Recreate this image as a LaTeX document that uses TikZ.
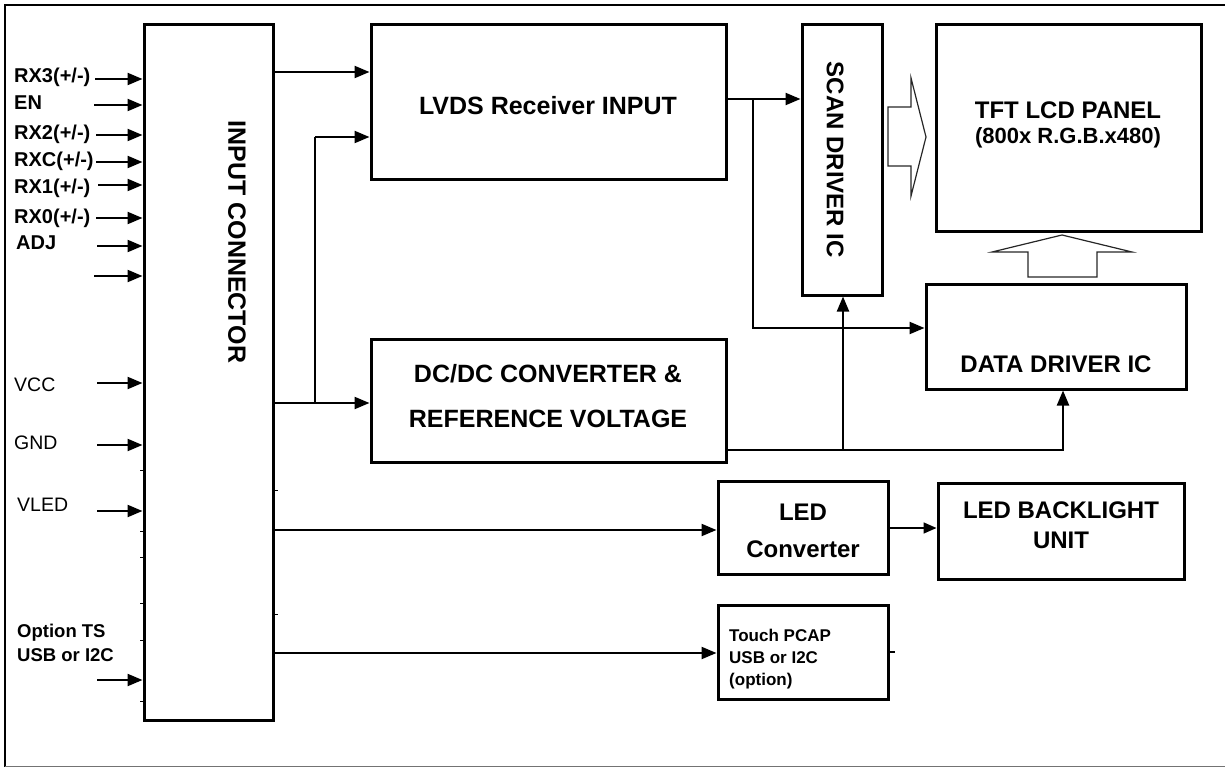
\documentclass[tikz,border=0pt]{standalone}
\usepackage{fontspec}
\setmainfont{Liberation Sans}
\usetikzlibrary{arrows.meta}
\begin{document}
\begin{tikzpicture}[x=1pt,y=-1pt,
  box/.style={draw,line width=3pt,minimum width=#1,inner sep=0pt},
  lbl/.style={font=\fontsize{25}{30}\selectfont\bfseries,inner sep=0pt},
  mid/.style={font=\fontsize{24}{28}\selectfont\bfseries,inner sep=0pt},
  pin/.style={font=\fontsize{20}{22}\selectfont\bfseries,inner sep=0pt,anchor=west},
  pinr/.style={font=\fontsize{19.5}{22}\selectfont,inner sep=0pt,anchor=west},
  small/.style={font=\fontsize{17}{20}\selectfont\bfseries,inner sep=0pt,anchor=west},
  arr/.style={line width=2.2pt,-{Triangle[length=15pt,width=12pt]}},
  arrthin/.style={line width=1.6pt,-{Triangle[length=13pt,width=11pt]}},
  hollow/.style={draw=black!85,line width=1.2pt,line join=miter},
  tick/.style={line width=1pt}]
\useasboundingbox (0,0) rectangle (1225,767);
% outer frame
\draw[line width=2pt] (1225,5) -- (5,5) -- (5,767);
\draw[line width=1pt,black!55] (5,766) -- (1225,766);

% boxes
\node[box=129pt,minimum height=695pt] (conn) at (208.5,372.5) {};
\node[box=355pt,minimum height=155pt] (lvds) at (548.5,102.5) {};
\node[box=355pt,minimum height=123pt] (dcdc) at (548.5,400.5) {};
\node[box=80pt,minimum height=270pt] (scan) at (842,160) {};
\node[box=265pt,minimum height=207pt] (tft) at (1068.5,128.5) {};
\node[box=260pt,minimum height=105pt] (data) at (1056,336.5) {};
\node[box=170pt,minimum height=93pt] (ledc) at (803,527.5) {};
\node[box=246pt,minimum height=96pt] (bl) at (1061,531) {};
\node[box=170pt,minimum height=94pt] (touch) at (803,652) {};

% box texts
\node[lbl,rotate=-90] (tconn) at (237,242) {INPUT CONNECTOR};
\node[lbl] (tlvds) at (548,106) {LVDS Receiver INPUT};
\node[lbl] (tdc1) at (548,374) {DC/DC CONVERTER \&};
\node[lbl] (tdc2) at (548,419) {REFERENCE VOLTAGE};
\node[font=\fontsize{24}{26}\selectfont\bfseries,inner sep=0pt,rotate=-90] (tscan) at (835,160) {SCAN DRIVER IC};
\node[mid] (ttft1) at (1068,110) {TFT LCD PANEL};
\node[font=\fontsize{22}{26}\selectfont\bfseries,inner sep=0pt] (ttft2) at (1068,138) {(800x R.G.B.x480)};
\node[mid] (tdata) at (1056,364) {DATA DRIVER IC};
\node[mid] (tled1) at (803,512) {LED};
\node[mid] (tled2) at (803,549) {Converter};
\node[mid] (tbl1) at (1061,510) {LED BACKLIGHT};
\node[mid] (tbl2) at (1061,540) {UNIT};
\node[small] (tt1) at (729,635) {Touch PCAP};
\node[small] (tt2) at (729,658) {USB or I2C};
\node[small] (tt3) at (729,681) {(option)};

% pin labels
\node[pin] (lrx3) at (14,77) {RX3(+/-)};
\node[pin] (len) at (14,103) {EN};
\node[pin] (lrx2) at (14,134) {RX2(+/-)};
\node[pin] (lrxc) at (14,161) {RXC(+/-)};
\node[pin] (lrx1) at (14,188) {RX1(+/-)};
\node[pin] (lrx0) at (14,218) {RX0(+/-)};
\node[pin] (ladj) at (16,243) {ADJ};
\node[pinr] (lvcc) at (14,385) {VCC};
\node[pinr] (lgnd) at (14,443) {GND};
\node[pinr] (lvled) at (17,505) {VLED};
\node[font=\fontsize{18.5}{22}\selectfont\bfseries,inner sep=0pt,anchor=west] (lopt1) at (17,633) {Option TS};
\node[font=\fontsize{18.5}{22}\selectfont\bfseries,inner sep=0pt,anchor=west] (lopt2) at (17,655) {USB or I2C};

% input arrows
\foreach \yy/\xx in {79/95,105/94,135/96,162/96,185/98,218/96,246/97,276/94,383/97,445/97,511/97,680/97}{
  \draw[arr] (\xx,\yy) -- (conn.west |- 0,\yy);
}
% tiny ticks on connector
\foreach \yy in {470,531,557,603,640,701}{\draw[tick] (conn.west |- 0,\yy) -- ++(-3,0);}
\foreach \yy in {490,614}{\draw[tick] (conn.east |- 0,\yy) -- ++(3,0);}

% connectors
\coordinate (j1) at (315,403);
\draw[arr] (conn.east |- 0,72) -- (lvds.west |- 0,72);
\draw[arr] (conn.east |- j1) -- (dcdc.west |- j1);
\draw[arr,-] (j1) -- (315,137);
\draw[arr] (315,137) -- (lvds.west |- 0,137);

\coordinate (j2) at (753,99);
\draw[arr] (lvds.east |- j2) -- (scan.west |- j2);
\draw[arr] (j2) -- (753,328) -- (data.west |- 0,328);

\coordinate (j3) at (843,450);
\draw[arr] (dcdc.east |- j3) -- (1063,450) -- (data.south -| 1063,0);
\draw[arr] (j3) -- (scan.south -| j3);

\draw[arr] (conn.east |- 0,530) -- (ledc.west |- 0,530);
\draw[arrthin] (ledc.east |- 0,528) -- (bl.west |- 0,528);
\draw[arr] (conn.east |- 0,653) -- (touch.west |- 0,653);
\draw[line width=1.5pt] (touch.east |- 0,652) -- ++(5,0);

% hollow arrows
\draw[hollow] (888,107) -- (911,107) -- (911,78) -- (926,137) -- (911,196) -- (911,166) -- (888,166) -- cycle;
\draw[hollow] (1028,277) -- (1028,252) -- (992,252) -- (1062,235) -- (1132,252) -- (1097,252) -- (1097,277) -- cycle;
\end{tikzpicture}
\end{document}
